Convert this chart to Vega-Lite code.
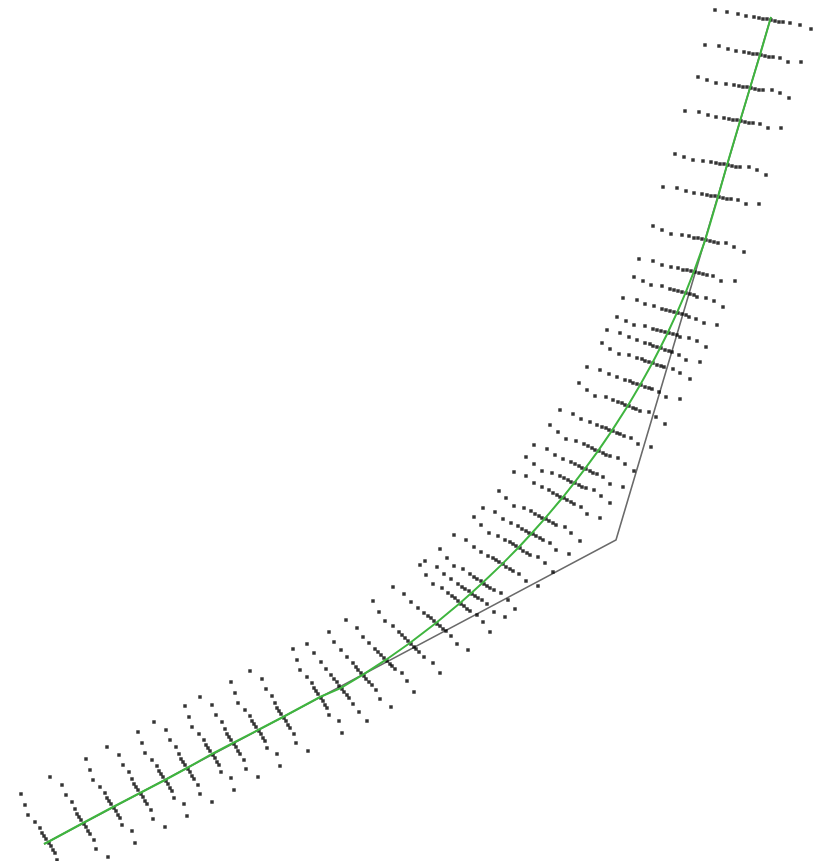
{
  "$schema": "https://vega.github.io/schema/vega-lite/v6.json",
  "width": 819,
  "height": 861,
  "autosize": {"type": "fit", "contains": "padding"},
  "padding": 0,
  "background": "white",
  "config": {"view": {"stroke": null}},
  "datasets": {
    "tangent": [
      {"x": 44, "y": 844, "o": 0},
      {"x": 616, "y": 540, "o": 1},
      {"x": 771, "y": 17, "o": 2}
    ],
    "road": [
      {"x": 44, "y": 844, "o": 0},
      {"x": 48, "y": 842, "o": 1},
      {"x": 83, "y": 823, "o": 2},
      {"x": 113, "y": 807, "o": 3},
      {"x": 140, "y": 793, "o": 4},
      {"x": 165, "y": 780, "o": 5},
      {"x": 187, "y": 768, "o": 6},
      {"x": 212, "y": 754, "o": 7},
      {"x": 233, "y": 743, "o": 8},
      {"x": 258, "y": 730, "o": 9},
      {"x": 283, "y": 717, "o": 10},
      {"x": 320, "y": 697, "o": 11},
      {"x": 340.6, "y": 688.2, "o": 12},
      {"x": 363.0, "y": 674.7, "o": 13},
      {"x": 386.1, "y": 659.7, "o": 14},
      {"x": 409.5, "y": 643.2, "o": 15},
      {"x": 436.0, "y": 623.0, "o": 16},
      {"x": 460.1, "y": 603.0, "o": 17},
      {"x": 471.1, "y": 593.3, "o": 18},
      {"x": 482.6, "y": 582.8, "o": 19},
      {"x": 501.9, "y": 564.4, "o": 20},
      {"x": 518.5, "y": 547.5, "o": 21},
      {"x": 531.5, "y": 533.5, "o": 22},
      {"x": 544.8, "y": 518.7, "o": 23},
      {"x": 562.6, "y": 497.5, "o": 24},
      {"x": 574.2, "y": 482.9, "o": 25},
      {"x": 584.7, "y": 469.2, "o": 26},
      {"x": 598.1, "y": 450.9, "o": 27},
      {"x": 611.6, "y": 431.1, "o": 28},
      {"x": 628.0, "y": 405.6, "o": 29},
      {"x": 640.1, "y": 385.1, "o": 30},
      {"x": 652.2, "y": 363.2, "o": 31},
      {"x": 660.1, "y": 348.0, "o": 32},
      {"x": 667.5, "y": 333.2, "o": 33},
      {"x": 676.9, "y": 312.9, "o": 34},
      {"x": 685.4, "y": 293.1, "o": 35},
      {"x": 693.9, "y": 271.7, "o": 36},
      {"x": 705.2, "y": 240.2, "o": 37},
      {"x": 718, "y": 197, "o": 38},
      {"x": 727, "y": 165, "o": 39},
      {"x": 740, "y": 121, "o": 40},
      {"x": 750, "y": 88, "o": 41},
      {"x": 760, "y": 55, "o": 42},
      {"x": 771, "y": 17, "o": 43}
    ],
    "dots": [
      {"x":21,"y":794},{"x":25,"y":805},{"x":28,"y":815},{"x":35,"y":822},{"x":40,"y":828},{"x":42,"y":833},{"x":44,"y":836},{"x":46,"y":839},{"x":49,"y":843},{"x":51,"y":846},{"x":53,"y":850},{"x":55,"y":853},{"x":57,"y":860},
      {"x":50,"y":777},{"x":62,"y":785},{"x":66,"y":795},{"x":72,"y":802},{"x":75,"y":809},{"x":77,"y":814},{"x":79,"y":817},{"x":81,"y":820},{"x":84,"y":824},{"x":86,"y":827},{"x":88,"y":831},{"x":90,"y":834},{"x":94,"y":840},{"x":96,"y":849},{"x":108,"y":857},
      {"x":86,"y":759},{"x":90,"y":770},{"x":93,"y":780},{"x":100,"y":787},{"x":105,"y":793},{"x":107,"y":798},{"x":109,"y":801},{"x":111,"y":804},{"x":114,"y":808},{"x":116,"y":811},{"x":118,"y":815},{"x":120,"y":818},{"x":122,"y":825},{"x":132,"y":831},{"x":135,"y":843},
      {"x":107,"y":747},{"x":119,"y":755},{"x":123,"y":765},{"x":129,"y":772},{"x":132,"y":779},{"x":134,"y":784},{"x":136,"y":787},{"x":138,"y":790},{"x":141,"y":794},{"x":143,"y":797},{"x":145,"y":801},{"x":147,"y":804},{"x":151,"y":810},{"x":153,"y":819},{"x":165,"y":827},
      {"x":138,"y":732},{"x":142,"y":743},{"x":145,"y":753},{"x":152,"y":760},{"x":157,"y":766},{"x":159,"y":771},{"x":161,"y":774},{"x":163,"y":777},{"x":166,"y":781},{"x":168,"y":784},{"x":170,"y":788},{"x":172,"y":791},{"x":174,"y":798},{"x":184,"y":804},{"x":187,"y":816},
      {"x":154,"y":722},{"x":166,"y":730},{"x":170,"y":740},{"x":176,"y":747},{"x":179,"y":754},{"x":181,"y":759},{"x":183,"y":762},{"x":185,"y":765},{"x":188,"y":769},{"x":190,"y":772},{"x":192,"y":776},{"x":194,"y":779},{"x":198,"y":785},{"x":200,"y":794},{"x":212,"y":802},
      {"x":185,"y":706},{"x":189,"y":717},{"x":192,"y":727},{"x":199,"y":734},{"x":204,"y":740},{"x":206,"y":745},{"x":208,"y":748},{"x":210,"y":751},{"x":213,"y":755},{"x":215,"y":758},{"x":217,"y":762},{"x":219,"y":765},{"x":221,"y":772},{"x":231,"y":778},{"x":234,"y":790},
      {"x":200,"y":697},{"x":212,"y":705},{"x":216,"y":715},{"x":222,"y":722},{"x":225,"y":729},{"x":227,"y":734},{"x":229,"y":737},{"x":231,"y":740},{"x":234,"y":744},{"x":236,"y":747},{"x":238,"y":751},{"x":240,"y":754},{"x":244,"y":760},{"x":246,"y":769},{"x":258,"y":777},
      {"x":231,"y":682},{"x":235,"y":693},{"x":238,"y":703},{"x":245,"y":710},{"x":250,"y":716},{"x":252,"y":721},{"x":254,"y":724},{"x":256,"y":727},{"x":259,"y":731},{"x":261,"y":734},{"x":263,"y":738},{"x":265,"y":741},{"x":267,"y":748},{"x":277,"y":754},{"x":280,"y":766},
      {"x":250,"y":671},{"x":262,"y":679},{"x":266,"y":689},{"x":272,"y":696},{"x":275,"y":703},{"x":277,"y":708},{"x":279,"y":711},{"x":281,"y":714},{"x":284,"y":718},{"x":286,"y":721},{"x":288,"y":725},{"x":290,"y":728},{"x":294,"y":734},{"x":296,"y":743},{"x":308,"y":751},
      {"x":293,"y":649},{"x":297,"y":660},{"x":300,"y":670},{"x":307,"y":677},{"x":312,"y":683},{"x":314,"y":688},{"x":316,"y":691},{"x":318,"y":694},{"x":321,"y":698},{"x":323,"y":701},{"x":325,"y":705},{"x":327,"y":708},{"x":329,"y":715},{"x":339,"y":721},{"x":342,"y":733},
      {"x":307,"y":644},{"x":314,"y":653},{"x":321,"y":662},{"x":326,"y":669},{"x":331,"y":675},{"x":334,"y":679},{"x":337,"y":682},{"x":339,"y":686},{"x":342,"y":689},{"x":344,"y":692},{"x":347,"y":695},{"x":349,"y":698},{"x":353,"y":704},{"x":359,"y":712},{"x":367,"y":721},
      {"x":329,"y":632},{"x":334,"y":642},{"x":341,"y":650},{"x":347,"y":657},{"x":353,"y":663},{"x":356,"y":667},{"x":358,"y":670},{"x":361,"y":673},{"x":364,"y":676},{"x":366,"y":679},{"x":369,"y":682},{"x":372,"y":685},{"x":376,"y":690},{"x":380,"y":699},{"x":391,"y":707},
      {"x":346,"y":620},{"x":357,"y":628},{"x":363,"y":637},{"x":369,"y":643},{"x":375,"y":649},{"x":378,"y":652},{"x":381,"y":655},{"x":384,"y":658},{"x":387,"y":661},{"x":390,"y":664},{"x":392,"y":666},{"x":395,"y":669},{"x":402,"y":673},{"x":407,"y":681},{"x":414,"y":692},
      {"x":373,"y":601},{"x":379,"y":612},{"x":385,"y":621},{"x":393,"y":626},{"x":399,"y":632},{"x":402,"y":635},{"x":405,"y":638},{"x":408,"y":641},{"x":411,"y":644},{"x":414,"y":647},{"x":416,"y":649},{"x":419,"y":652},{"x":424,"y":657},{"x":433,"y":663},{"x":440,"y":673},
      {"x":393,"y":587},{"x":404,"y":594},{"x":411,"y":602},{"x":418,"y":608},{"x":424,"y":613},{"x":428,"y":616},{"x":431,"y":618},{"x":434,"y":621},{"x":437,"y":624},{"x":440,"y":626},{"x":443,"y":629},{"x":446,"y":631},{"x":451,"y":636},{"x":457,"y":644},{"x":468,"y":650},
      {"x":420,"y":565},{"x":426,"y":575},{"x":433,"y":584},{"x":442,"y":588},{"x":448,"y":593},{"x":452,"y":596},{"x":455,"y":598},{"x":458,"y":601},{"x":461,"y":604},{"x":464,"y":606},{"x":467,"y":609},{"x":470,"y":611},{"x":477,"y":615},{"x":483,"y":622},{"x":490,"y":632},
      {"x":425,"y":561},{"x":437,"y":567},{"x":444,"y":574},{"x":451,"y":579},{"x":458,"y":584},{"x":462,"y":587},{"x":465,"y":589},{"x":469,"y":591},{"x":472,"y":594},{"x":475,"y":596},{"x":478,"y":598},{"x":482,"y":600},{"x":487,"y":604},{"x":494,"y":612},{"x":505,"y":617},
      {"x":440,"y":549},{"x":447,"y":558},{"x":454,"y":566},{"x":463,"y":569},{"x":470,"y":574},{"x":474,"y":577},{"x":477,"y":579},{"x":481,"y":581},{"x":484,"y":584},{"x":487,"y":586},{"x":490,"y":588},{"x":494,"y":590},{"x":501,"y":593},{"x":508,"y":600},{"x":515,"y":609},
      {"x":454,"y":535},{"x":466,"y":540},{"x":474,"y":547},{"x":481,"y":552},{"x":488,"y":556},{"x":493,"y":558},{"x":496,"y":560},{"x":499,"y":562},{"x":503,"y":564},{"x":506,"y":567},{"x":510,"y":569},{"x":513,"y":571},{"x":519,"y":574},{"x":526,"y":581},{"x":538,"y":586},
      {"x":474,"y":517},{"x":481,"y":525},{"x":489,"y":533},{"x":498,"y":536},{"x":505,"y":540},{"x":510,"y":542},{"x":513,"y":544},{"x":516,"y":546},{"x":520,"y":548},{"x":523,"y":551},{"x":527,"y":553},{"x":530,"y":555},{"x":538,"y":557},{"x":545,"y":563},{"x":553,"y":572},
      {"x":483,"y":508},{"x":495,"y":512},{"x":503,"y":519},{"x":511,"y":523},{"x":518,"y":526},{"x":522,"y":529},{"x":526,"y":531},{"x":529,"y":533},{"x":533,"y":534},{"x":536,"y":536},{"x":540,"y":538},{"x":543,"y":540},{"x":550,"y":543},{"x":556,"y":550},{"x":569,"y":554},
      {"x":499,"y":491},{"x":506,"y":498},{"x":514,"y":506},{"x":524,"y":508},{"x":531,"y":511},{"x":535,"y":514},{"x":539,"y":516},{"x":542,"y":518},{"x":546,"y":519},{"x":549,"y":521},{"x":553,"y":523},{"x":556,"y":525},{"x":565,"y":527},{"x":571,"y":533},{"x":580,"y":541},
      {"x":514,"y":472},{"x":526,"y":476},{"x":534,"y":483},{"x":542,"y":487},{"x":549,"y":490},{"x":553,"y":493},{"x":557,"y":495},{"x":560,"y":497},{"x":564,"y":498},{"x":567,"y":500},{"x":571,"y":502},{"x":574,"y":504},{"x":581,"y":507},{"x":587,"y":514},{"x":600,"y":518},
      {"x":526,"y":457},{"x":534,"y":464},{"x":542,"y":471},{"x":552,"y":473},{"x":560,"y":476},{"x":564,"y":478},{"x":568,"y":480},{"x":571,"y":482},{"x":575,"y":483},{"x":579,"y":485},{"x":582,"y":487},{"x":586,"y":488},{"x":594,"y":490},{"x":601,"y":496},{"x":610,"y":503},
      {"x":534,"y":445},{"x":547,"y":449},{"x":555,"y":455},{"x":563,"y":459},{"x":571,"y":462},{"x":575,"y":464},{"x":579,"y":466},{"x":582,"y":468},{"x":586,"y":469},{"x":590,"y":471},{"x":593,"y":473},{"x":597,"y":474},{"x":603,"y":477},{"x":610,"y":484},{"x":623,"y":487},
      {"x":550,"y":425},{"x":558,"y":432},{"x":566,"y":439},{"x":576,"y":441},{"x":584,"y":444},{"x":588,"y":446},{"x":592,"y":448},{"x":595,"y":450},{"x":599,"y":451},{"x":603,"y":453},{"x":606,"y":455},{"x":610,"y":456},{"x":618,"y":458},{"x":625,"y":464},{"x":634,"y":471},
      {"x":560,"y":410},{"x":573,"y":414},{"x":581,"y":419},{"x":590,"y":422},{"x":597,"y":425},{"x":602,"y":427},{"x":606,"y":428},{"x":609,"y":430},{"x":613,"y":431},{"x":617,"y":433},{"x":620,"y":434},{"x":624,"y":436},{"x":631,"y":438},{"x":638,"y":444},{"x":651,"y":447},
      {"x":579,"y":383},{"x":587,"y":390},{"x":595,"y":396},{"x":606,"y":397},{"x":613,"y":400},{"x":618,"y":402},{"x":622,"y":403},{"x":625,"y":405},{"x":629,"y":406},{"x":633,"y":408},{"x":636,"y":409},{"x":640,"y":411},{"x":649,"y":412},{"x":656,"y":417},{"x":665,"y":424},
      {"x":587,"y":367},{"x":600,"y":370},{"x":609,"y":374},{"x":617,"y":377},{"x":625,"y":380},{"x":630,"y":381},{"x":633,"y":383},{"x":637,"y":384},{"x":641,"y":385},{"x":645,"y":387},{"x":649,"y":388},{"x":652,"y":389},{"x":659,"y":392},{"x":666,"y":397},{"x":680,"y":399},
      {"x":602,"y":343},{"x":610,"y":349},{"x":619,"y":354},{"x":629,"y":355},{"x":637,"y":358},{"x":642,"y":359},{"x":645,"y":361},{"x":649,"y":362},{"x":653,"y":363},{"x":657,"y":365},{"x":661,"y":366},{"x":664,"y":367},{"x":673,"y":369},{"x":680,"y":373},{"x":690,"y":379},
      {"x":607,"y":330},{"x":620,"y":333},{"x":629,"y":337},{"x":637,"y":340},{"x":645,"y":343},{"x":650,"y":344},{"x":653,"y":346},{"x":657,"y":347},{"x":661,"y":348},{"x":665,"y":350},{"x":669,"y":351},{"x":672,"y":352},{"x":679,"y":355},{"x":686,"y":360},{"x":700,"y":362},
      {"x":617,"y":317},{"x":626,"y":321},{"x":634,"y":325},{"x":645,"y":326},{"x":653,"y":329},{"x":657,"y":330},{"x":661,"y":331},{"x":665,"y":332},{"x":669,"y":333},{"x":673,"y":334},{"x":677,"y":335},{"x":680,"y":337},{"x":689,"y":338},{"x":697,"y":341},{"x":706,"y":347},
      {"x":623,"y":298},{"x":637,"y":300},{"x":645,"y":304},{"x":654,"y":306},{"x":662,"y":309},{"x":666,"y":310},{"x":670,"y":311},{"x":674,"y":312},{"x":678,"y":313},{"x":682,"y":314},{"x":686,"y":315},{"x":689,"y":317},{"x":696,"y":319},{"x":704,"y":323},{"x":717,"y":325},
      {"x":634,"y":277},{"x":643,"y":281},{"x":651,"y":285},{"x":662,"y":286},{"x":670,"y":289},{"x":674,"y":290},{"x":678,"y":291},{"x":682,"y":292},{"x":686,"y":293},{"x":690,"y":294},{"x":694,"y":295},{"x":697,"y":297},{"x":706,"y":298},{"x":714,"y":301},{"x":723,"y":307},
      {"x":639,"y":259},{"x":653,"y":261},{"x":662,"y":265},{"x":671,"y":267},{"x":678,"y":268},{"x":683,"y":270},{"x":687,"y":270},{"x":691,"y":271},{"x":695,"y":272},{"x":699,"y":273},{"x":703,"y":274},{"x":707,"y":275},{"x":713,"y":276},{"x":721,"y":281},{"x":735,"y":281},
      {"x":653,"y":226},{"x":662,"y":230},{"x":671,"y":234},{"x":682,"y":235},{"x":689,"y":236},{"x":694,"y":238},{"x":698,"y":238},{"x":702,"y":239},{"x":706,"y":240},{"x":710,"y":241},{"x":714,"y":242},{"x":718,"y":243},{"x":726,"y":243},{"x":734,"y":247},{"x":744,"y":252},
      {"x":663,"y":187},{"x":677,"y":188},{"x":686,"y":191},{"x":694,"y":193},{"x":702,"y":194},{"x":707,"y":195},{"x":711,"y":196},{"x":715,"y":196},{"x":719,"y":197},{"x":723,"y":198},{"x":727,"y":199},{"x":731,"y":199},{"x":738,"y":200},{"x":746,"y":204},{"x":759,"y":204},
      {"x":675,"y":154},{"x":684,"y":157},{"x":693,"y":160},{"x":703,"y":161},{"x":711,"y":162},{"x":716,"y":163},{"x":720,"y":164},{"x":724,"y":164},{"x":728,"y":165},{"x":732,"y":166},{"x":736,"y":167},{"x":740,"y":167},{"x":749,"y":167},{"x":757,"y":170},{"x":766,"y":175},
      {"x":685,"y":111},{"x":699,"y":112},{"x":708,"y":115},{"x":716,"y":117},{"x":724,"y":118},{"x":729,"y":119},{"x":733,"y":120},{"x":737,"y":120},{"x":741,"y":121},{"x":745,"y":122},{"x":749,"y":123},{"x":753,"y":123},{"x":760,"y":124},{"x":768,"y":128},{"x":781,"y":128},
      {"x":698,"y":77},{"x":707,"y":80},{"x":716,"y":83},{"x":726,"y":84},{"x":734,"y":85},{"x":739,"y":86},{"x":743,"y":87},{"x":747,"y":87},{"x":751,"y":88},{"x":755,"y":89},{"x":759,"y":90},{"x":763,"y":90},{"x":772,"y":90},{"x":780,"y":93},{"x":789,"y":98},
      {"x":705,"y":45},{"x":719,"y":46},{"x":728,"y":49},{"x":736,"y":51},{"x":744,"y":52},{"x":749,"y":53},{"x":753,"y":54},{"x":757,"y":54},{"x":761,"y":55},{"x":765,"y":56},{"x":769,"y":57},{"x":773,"y":57},{"x":780,"y":58},{"x":788,"y":62},{"x":801,"y":62},
      {"x":715,"y":10},{"x":727,"y":12},{"x":738,"y":14},{"x":746,"y":16},{"x":754,"y":17},{"x":759,"y":18},{"x":763,"y":19},{"x":767,"y":19},{"x":771,"y":20},{"x":775,"y":21},{"x":779,"y":22},{"x":783,"y":22},{"x":790,"y":23},{"x":800,"y":25},{"x":811,"y":29}
    ]
  },
  "encoding": {
    "x": {"field": "x", "type": "quantitative", "scale": {"domain": [0, 819], "nice": false, "zero": false}, "axis": null},
    "y": {"field": "y", "type": "quantitative", "scale": {"domain": [0, 861], "nice": false, "zero": false, "reverse": true}, "axis": null}
  },
  "layer": [
    {
      "data": {"name": "tangent"},
      "mark": {"type": "line", "color": "#6a6a6a", "strokeWidth": 1.6, "clip": true},
      "encoding": {"order": {"field": "o", "type": "quantitative"}}
    },
    {
      "data": {"name": "dots"},
      "mark": {"type": "point", "shape": "square", "filled": true, "size": 12, "color": "#000000", "opacity": 0.8, "clip": true}
    },
    {
      "data": {"name": "road"},
      "mark": {"type": "line", "color": "#3fb53f", "strokeWidth": 2, "clip": true},
      "encoding": {"order": {"field": "o", "type": "quantitative"}}
    }
  ]
}
